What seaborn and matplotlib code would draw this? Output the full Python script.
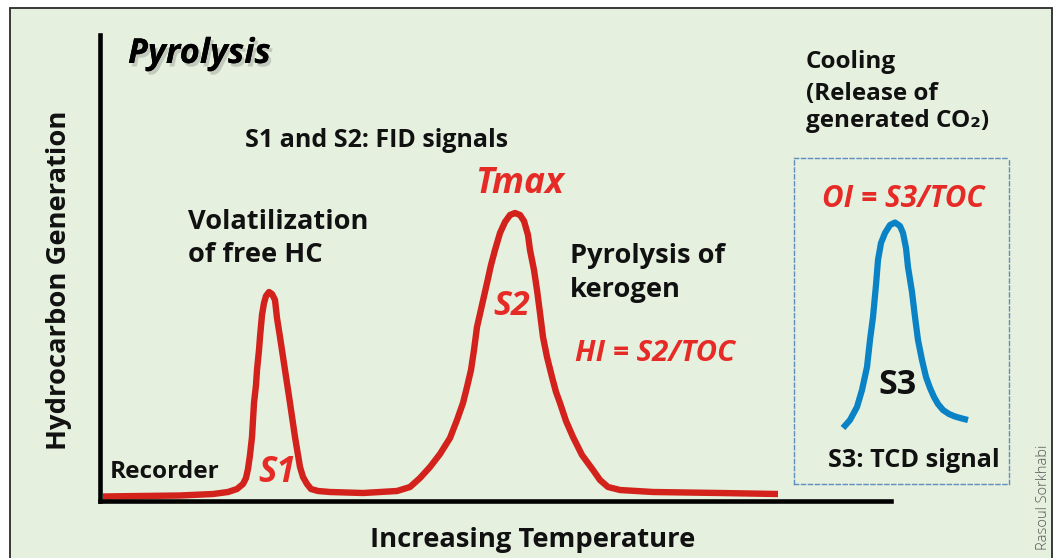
import numpy as np
import pandas as pd
import seaborn as sns
import matplotlib
matplotlib.use("Agg")
import matplotlib.pyplot as plt
from matplotlib import patheffects as pe
from matplotlib.patches import Rectangle

# ---------------- data ----------------
# FID trace (S1 + S2) : relative temperature vs relative signal
fid_temp = [3, 40, 80, 113, 128, 137, 143, 146, 148, 150, 152, 154, 156, 157, 159, 160,
            162, 164, 166, 169, 172, 175, 177, 180, 185, 190, 195, 198, 200, 203, 207,
            211, 218, 230, 263, 297, 310, 320, 330, 340, 350, 357, 363, 367, 371, 374, 377,
            382, 387, 391, 395, 400, 405, 410, 415, 420, 424, 428, 430, 434, 437, 440,
            443, 447, 452, 456, 460, 466, 473, 482, 493, 500, 508, 520, 553, 620, 678]
fid_signal = [4.5, 5, 5.5, 7, 9, 12, 17, 23, 32, 46, 64, 98, 116, 131, 151, 164,
              186, 198, 205, 209, 207, 201, 183, 164, 131, 98, 64, 46, 34, 24, 17,
              12, 10, 9, 8, 10, 14, 23, 34, 47, 63, 81, 98, 114, 131, 151, 174,
              196, 218, 236, 251, 268, 279, 286, 288, 286, 280, 266, 251, 231, 211, 188,
              164, 144, 124, 109, 98, 80, 64, 46, 31, 21, 14, 11, 9, 8, 7]

# TCD trace (S3) inside the dashed box
tcd_temp = [49, 56, 63, 68, 73, 76, 79, 82, 84, 87, 91, 96, 101, 106, 109, 112, 114,
            118, 121, 124, 128, 132, 136, 140, 144, 149, 155, 161, 168, 174]
tcd_signal = [56, 64, 77, 94, 117, 144, 167, 199, 224, 241, 251, 259, 261.5, 258, 251,
              236, 217, 192, 167, 144, 124, 107, 96, 87, 80, 74, 70, 67.5, 65.5, 64]

title = "Pyrolysis"
x_label = "Increasing Temperature"
y_label = "Hydrocarbon Generation"
credit = "Rasoul Sorkhabi"

fid_df = pd.DataFrame({"temp": fid_temp, "signal": fid_signal})
tcd_df = pd.DataFrame({"temp": tcd_temp, "signal": tcd_signal})

# ---------------- style ----------------
sns.set_theme(style="white")
plt.rcParams["font.family"] = ["Open Sans", "DejaVu Sans"]

W, H = 1059, 558
BG = "#e6f0df"
RED_LINE = "#d2221b"
RED_TXT = "#e62a26"
BLUE = "#0a82c6"
BLACK = "#111111"

fig = plt.figure(figsize=(W / 100, H / 100), dpi=100)
fig.patch.set_facecolor("white")

# outer framed panel (behind everything)
fig.patches.append(Rectangle((10 / W, -0.02), (1052 - 10) / W, 1 - 8 / H + 0.02,
                             transform=fig.transFigure, facecolor=BG,
                             edgecolor="#2a2a2a", lw=1.3, zorder=-5))

def fx(x):
    return x / W

def fy(y):
    return 1 - y / H

# ---------------- main axes ----------------
ax = fig.add_axes([fx(100), fy(501), (891 - 100) / W, (501 - 35) / H])
ax.set_zorder(2)
ax.patch.set_alpha(0)
sns.lineplot(data=fid_df, x="temp", y="signal", ax=ax, sort=False, estimator=None,
             color=RED_LINE, linewidth=4.6)
ax.set_xlim(0, 791)
ax.set_ylim(0, 466)
ax.set_xticks([])
ax.set_yticks([])
ax.set_xlabel("")
ax.set_ylabel("")
for s in ["top", "right"]:
    ax.spines[s].set_visible(False)
for s in ["left", "bottom"]:
    ax.spines[s].set_linewidth(3.3)
    ax.spines[s].set_color("black")
    ax.spines[s].set_capstyle("projecting")
for ln in ax.lines:
    ln.set_solid_joinstyle("round")
    ln.set_solid_capstyle("butt")

# ---------------- S3 box axes ----------------
ax2 = fig.add_axes([fx(794), fy(484), 215 / W, 326 / H])
ax2.set_zorder(2)
ax2.patch.set_alpha(0)
sns.lineplot(data=tcd_df, x="temp", y="signal", ax=ax2, sort=False, estimator=None,
             color=BLUE, linewidth=4.5)
ax2.set_xlim(0, 215)
ax2.set_ylim(0, 326)
ax2.set_xticks([])
ax2.set_yticks([])
ax2.set_xlabel("")
ax2.set_ylabel("")
for s in ax2.spines.values():
    s.set_visible(True)
    s.set_linestyle((0, (3.0, 2.0)))
    s.set_linewidth(1.0)
    s.set_color("#5f8fbf")
for ln in ax2.lines:
    ln.set_solid_joinstyle("round")
    ln.set_solid_capstyle("butt")

# ---------------- texts ----------------
def T(x, y, s, size, **kw):
    kw.setdefault("va", "baseline")
    kw.setdefault("ha", "left")
    return fig.text(fx(x), fy(y), s, fontsize=size, zorder=5, **kw)

black_kw = dict(color=BLACK, fontweight="bold")
red_kw = dict(color=RED_TXT, fontweight="bold", fontstyle="italic")

t = T(128, 63, title, 24.8, fontweight="bold", fontstyle="italic", color="black")
t.set_path_effects([pe.withSimplePatchShadow(offset=(2, -2.5), shadow_rgbFace="#666666",
                                             alpha=0.28), pe.Normal()])

T(245, 147, "S1 and S2: FID signals", 18, **black_kw)
T(188, 229, "Volatilization", 19.6, **black_kw)
T(188, 262, "of free HC", 19.6, **black_kw)
T(570, 263, "Pyrolysis of", 19.6, **black_kw)
T(570, 297, "kerogen", 19.6, **black_kw)
T(110, 478, "Recorder", 17.6, **black_kw)
T(806, 68, "Cooling", 17.5, **black_kw)
T(806, 100, "(Release of", 17.5, **black_kw)
T(806, 127, "generated CO\u2082)", 17.5, **black_kw)
T(828, 467, "S3: TCD signal", 18.2, **black_kw)
T(370, 547, x_label, 19.7, **black_kw)
T(66, 450, y_label, 19.7, rotation=90, rotation_mode="anchor", **black_kw)

T(475, 193, "Tmax", 25.5, **red_kw)
T(493, 315, "S2", 24.5, **red_kw)
T(258, 482, "S1", 25, **red_kw)
T(575, 361, "HI = S2/TOC", 21.2, **red_kw)
T(822, 207, "OI = S3/TOC", 21.3, **red_kw)
T(878, 394, "S3", 24.5, fontweight="bold", color=BLACK)

T(1047, 550, credit, 10.5, rotation=90, rotation_mode="anchor",
  fontweight="light", color="#555555")

fig.savefig("out.png", dpi=100, facecolor=fig.get_facecolor())
